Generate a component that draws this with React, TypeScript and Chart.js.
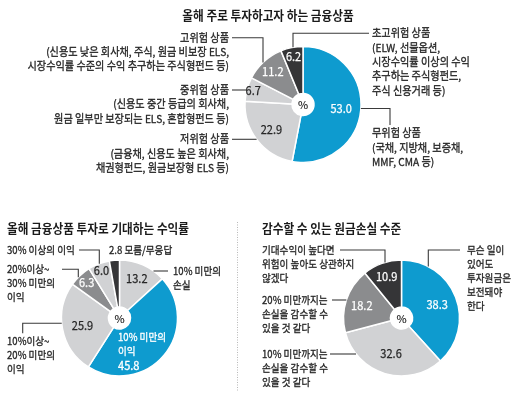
import React, { useEffect, useRef } from 'react';
import { Chart, registerables } from 'chart.js';

Chart.register(...registerables);

// ---------------- DATA ----------------
const PRODUCT_NAMES = ['무위험 상품', '저위험 상품', '중위험 상품', '고위험 상품', '초고위험 상품'];
const PRODUCT_NOTES = [
  '(국채, 지방채, 보증채,\nMMF, CMA 등)',
  '(금융채, 신용도 높은 회사채,\n채권형펀드, 원금보장형 ELS 등)',
  '(신용도 중간 등급의 회사채,\n원금 일부만 보장되는 ELS, 혼합형펀드 등)',
  '(신용도 낮은 회사채, 주식, 원금 비보장 ELS,\n시장수익률 수준의 수익 추구하는 주식형펀드 등)',
  '(ELW, 선물옵션,\n시장수익률 이상의 수익\n추구하는 주식형펀드,\n주식 신용거래 등)',
];
const PRODUCT_SHARES = [53.0, 22.9, 6.7, 11.2, 6.2];

const RETURN_NAMES = [
  '10% 미만의\n손실',
  '10% 미만의\n이익',
  '10%이상~\n20% 미만의\n이익',
  '20%이상~\n30% 미만의\n이익',
  '30% 이상의 이익',
  '모름/무응답',
];
const RETURN_SHARES = [13.2, 45.8, 25.9, 6.3, 6.0, 2.8];

const LOSS_NAMES = [
  '무슨 일이\n있어도\n투자원금은\n보전돼야\n한다',
  '10% 미만까지는\n손실을 감수할 수\n있을 것 같다',
  '20% 미만까지는\n손실을 감수할 수\n있을 것 같다',
  '기대수익이 높다면\n위험이 높아도 상관하지\n않겠다',
];
const LOSS_SHARES = [38.3, 32.6, 18.2, 10.9];

const TITLES = ['올해 주로 투자하고자 하는 금융상품', '올해 금융상품 투자로 기대하는 수익률', '감수할 수 있는 원금손실 수준'];

// ---------------- STYLE / LAYOUT ----------------
const W = 520;
const H = 398;
const R = 58;
const BLUE = '#0e9bcf';
const LIGHT = '#d1d2d4';
const MID = '#8b8c8e';
const DARK = '#353537';
const TEXT = '#262626';
const LINE = '#3a3a3a';
const FONT = '"Noto Sans CJK KR", "Noto Sans", sans-serif';

type Leader =
  | { kind: 'h'; y: number; x0: number }
  | { kind: 'hv'; y: number; x0: number; x1: number }
  | { kind: 'ehv'; y: number; x1: number; y2: number };

type Note = { lines: string[]; x: number; y: number; align: CanvasTextAlign; color?: string; leader?: Leader };

type Spec = {
  values: number[];
  colors: string[];
  cx: number;
  cy: number;
  title: { text: string; x: number; y: number; align: CanvasTextAlign };
  valueR: (number | null)[];
  notes: Note[];
  lh: number;
  noteFont: number;
  noteScale: number;
  separator?: boolean;
};

const split = (s: string) => s.split('\n');
const fmt = (v: number) => v.toFixed(1);

const SPECS: Spec[] = [
  {
    values: PRODUCT_SHARES,
    colors: [BLUE, LIGHT, LIGHT, MID, DARK],
    cx: 303,
    cy: 104.5,
    title: { text: TITLES[0], x: 268, y: 15, align: 'center' },
    valueR: [0.66, 0.69, 0.89, 0.77, 0.84],
    lh: 14.3,
    noteFont: 10.8,
    noteScale: 0.94,
    notes: [
      { lines: [PRODUCT_NAMES[0], ...split(PRODUCT_NOTES[0])], x: 372, y: 133.3, align: 'left', leader: { kind: 'ehv', y: 108.5, x1: 390, y2: 125 } },
      { lines: [PRODUCT_NAMES[1], ...split(PRODUCT_NOTES[1])], x: 229, y: 139.3, align: 'right', leader: { kind: 'h', y: 139.3, x0: 232 } },
      { lines: [PRODUCT_NAMES[2], ...split(PRODUCT_NOTES[2])], x: 229, y: 90, align: 'right', leader: { kind: 'h', y: 90, x0: 232 } },
      { lines: [PRODUCT_NAMES[3], ...split(PRODUCT_NOTES[3])], x: 229, y: 37.7, align: 'right', leader: { kind: 'hv', y: 37.7, x0: 232, x1: 263 } },
      { lines: [PRODUCT_NAMES[4], ...split(PRODUCT_NOTES[4])], x: 372, y: 33.3, align: 'left', leader: { kind: 'hv', y: 33.3, x0: 369, x1: 293 } },
    ],
  },
  {
    values: RETURN_SHARES,
    colors: [LIGHT, BLUE, LIGHT, MID, LIGHT, DARK],
    cx: 119.5,
    cy: 318,
    title: { text: TITLES[1], x: 7, y: 228.3, align: 'left' },
    valueR: [0.74, null, 0.65, 0.83, 0.87, null],
    lh: 14,
    noteFont: 10.3,
    noteScale: 0.93,
    separator: true,
    notes: [
      { lines: split(RETURN_NAMES[0]), x: 173, y: 271, align: 'left', leader: { kind: 'h', y: 271, x0: 168 } },
      { lines: [...split(RETURN_NAMES[1]), fmt(RETURN_SHARES[1])], x: 118, y: 337, align: 'left', color: '#fff' },
      { lines: split(RETURN_NAMES[2]), x: 7, y: 341, align: 'left', leader: { kind: 'ehv', y: 323.3, x1: 22.7, y2: 333.3 } },
      { lines: split(RETURN_NAMES[3]), x: 7, y: 269.3, align: 'left', leader: { kind: 'hv', y: 269.3, x0: 62, x1: 78.3 } },
      { lines: split(RETURN_NAMES[4]), x: 7, y: 250, align: 'left', leader: { kind: 'hv', y: 250, x0: 79, x1: 99.3 } },
      { lines: [fmt(RETURN_SHARES[5]) + ' ' + RETURN_NAMES[5]], x: 109, y: 250, align: 'left' },
    ],
  },
  {
    values: LOSS_SHARES,
    colors: [BLUE, LIGHT, MID, DARK],
    cx: 401.5,
    cy: 318,
    title: { text: TITLES[2], x: 262, y: 228.3, align: 'left' },
    valueR: [0.66, 0.63, 0.72, 0.76],
    lh: 14,
    noteFont: 10.3,
    noteScale: 0.93,
    notes: [
      { lines: split(LOSS_NAMES[0]), x: 467, y: 250, align: 'left', leader: { kind: 'hv', y: 250, x0: 460, x1: 428.3 } },
      { lines: split(LOSS_NAMES[1]), x: 262, y: 354, align: 'left', leader: { kind: 'h', y: 354, x0: 330 } },
      { lines: split(LOSS_NAMES[2]), x: 262, y: 300, align: 'left', leader: { kind: 'h', y: 300, x0: 332 } },
      { lines: split(LOSS_NAMES[3]), x: 262, y: 250, align: 'left', leader: { kind: 'hv', y: 250, x0: 340, x1: 385 } },
    ],
  },
];

function txt(
  ctx: CanvasRenderingContext2D,
  s: string,
  x: number,
  y: number,
  align: CanvasTextAlign,
  font: string,
  color: string,
  sx = 0.93,
  bolden = 0.3
) {
  ctx.save();
  ctx.font = font;
  ctx.fillStyle = color;
  ctx.strokeStyle = color;
  ctx.lineWidth = bolden;
  ctx.lineJoin = 'round';
  ctx.textBaseline = 'middle';
  ctx.textAlign = align;
  ctx.translate(x, y);
  ctx.scale(sx, 1);
  ctx.fillText(s, 0, 0);
  if (bolden > 0) ctx.strokeText(s, 0, 0);
  ctx.restore();
}

const isLight = (c: string) => c === LIGHT;

function drawAnnotations(chart: Chart, spec: Spec) {
  const ctx = chart.ctx;
  const meta = chart.getDatasetMeta(0);
  const arcs = meta.data as any[];
  const cx = arcs[0].x;
  const cy = arcs[0].y;
  const r = arcs[0].outerRadius;

  // title
  txt(ctx, spec.title.text, spec.title.x, spec.title.y, spec.title.align, `bold 12.6px ${FONT}`, '#1a1a1a', 0.925, 0);

  // center "%"
  txt(ctx, '%', cx, cy + 0.5, 'center', `11px ${FONT}`, TEXT, 1, 0.2);

  // value labels
  arcs.forEach((a, i) => {
    const f = spec.valueR[i];
    if (f == null) return;
    const mid = (a.startAngle + a.endAngle) / 2;
    const x = cx + Math.cos(mid) * r * f;
    const y = cy + Math.sin(mid) * r * f;
    txt(ctx, fmt(spec.values[i]), x, y, 'center', `12px ${FONT}`, isLight(spec.colors[i]) ? TEXT : '#fff', 0.92, 0.25);
  });

  // leaders
  ctx.save();
  ctx.strokeStyle = LINE;
  ctx.lineWidth = 1.1;
  spec.notes.forEach((n) => {
    const L = n.leader;
    if (!L) return;
    ctx.beginPath();
    if (L.kind === 'h') {
      const side = Math.sign(L.x0 - cx);
      const ex = cx + side * Math.sqrt(Math.max(r * r - (L.y - cy) ** 2, 0));
      ctx.moveTo(L.x0, L.y);
      ctx.lineTo(ex, L.y);
    } else if (L.kind === 'hv') {
      const ey = cy - Math.sqrt(Math.max(r * r - (L.x1 - cx) ** 2, 0));
      ctx.moveTo(L.x0, L.y);
      ctx.lineTo(L.x1, L.y);
      ctx.lineTo(L.x1, ey);
    } else {
      const side = Math.sign(L.x1 - cx);
      const ex = cx + side * Math.sqrt(Math.max(r * r - (L.y - cy) ** 2, 0));
      ctx.moveTo(ex, L.y);
      ctx.lineTo(L.x1, L.y);
      ctx.lineTo(L.x1, L.y2);
    }
    ctx.stroke();
  });
  ctx.restore();

  // note texts
  spec.notes.forEach((n) => {
    const isValueBlock = n.color === '#fff';
    n.lines.forEach((line, k) => {
      const isNum = isValueBlock && k === n.lines.length - 1;
      txt(
        ctx,
        line,
        n.x,
        n.y + k * spec.lh,
        n.align,
        `${isNum ? 12 : spec.noteFont}px ${FONT}`,
        n.color || TEXT,
        isNum ? 0.92 : spec.noteScale,
        0.3
      );
    });
  });

  // dotted separator
  if (spec.separator) {
    ctx.save();
    ctx.strokeStyle = '#b8b8b8';
    ctx.lineWidth = 1;
    ctx.setLineDash([1, 1.5]);
    ctx.beginPath();
    ctx.moveTo(237.5, 222);
    ctx.lineTo(237.5, 392);
    ctx.stroke();
    ctx.restore();
  }
}

function PieCanvas({ spec }: { spec: Spec }) {
  const ref = useRef<HTMLCanvasElement>(null);
  useEffect(() => {
    const half = 60;
    const chart = new Chart(ref.current as HTMLCanvasElement, {
      type: 'doughnut',
      data: {
        labels: spec.values.map((_, i) => String(i)),
        datasets: [
          {
            data: spec.values,
            backgroundColor: spec.colors,
            borderColor: '#ffffff',
            borderWidth: 1.5,
          },
        ],
      },
      options: {
        responsive: false,
        animation: false,
        devicePixelRatio: 1,
        radius: R,
        cutout: '19%',
        layout: {
          padding: {
            left: spec.cx - half,
            right: W - spec.cx - half,
            top: spec.cy - half,
            bottom: H - spec.cy - half,
          },
        },
        plugins: {
          legend: { display: false },
          tooltip: { enabled: false },
          title: { display: false },
        },
        events: [],
      } as any,
      plugins: [
        {
          id: 'annotations',
          afterDatasetsDraw(c: Chart) {
            drawAnnotations(c, spec);
          },
        },
      ],
    });
    return () => chart.destroy();
  }, [spec]);
  return (
    <canvas
      ref={ref}
      width={W}
      height={H}
      style={{ position: 'absolute', left: 0, top: 0, width: W, height: H }}
    />
  );
}

export default function App() {
  useEffect(() => {
    document.body.style.margin = '0';
    document.body.style.background = '#fff';
  }, []);
  return (
    <div style={{ position: 'relative', width: W, height: H, background: '#fff', overflow: 'hidden' }}>
      {SPECS.map((s, i) => (
        <PieCanvas key={i} spec={s} />
      ))}
    </div>
  );
}
